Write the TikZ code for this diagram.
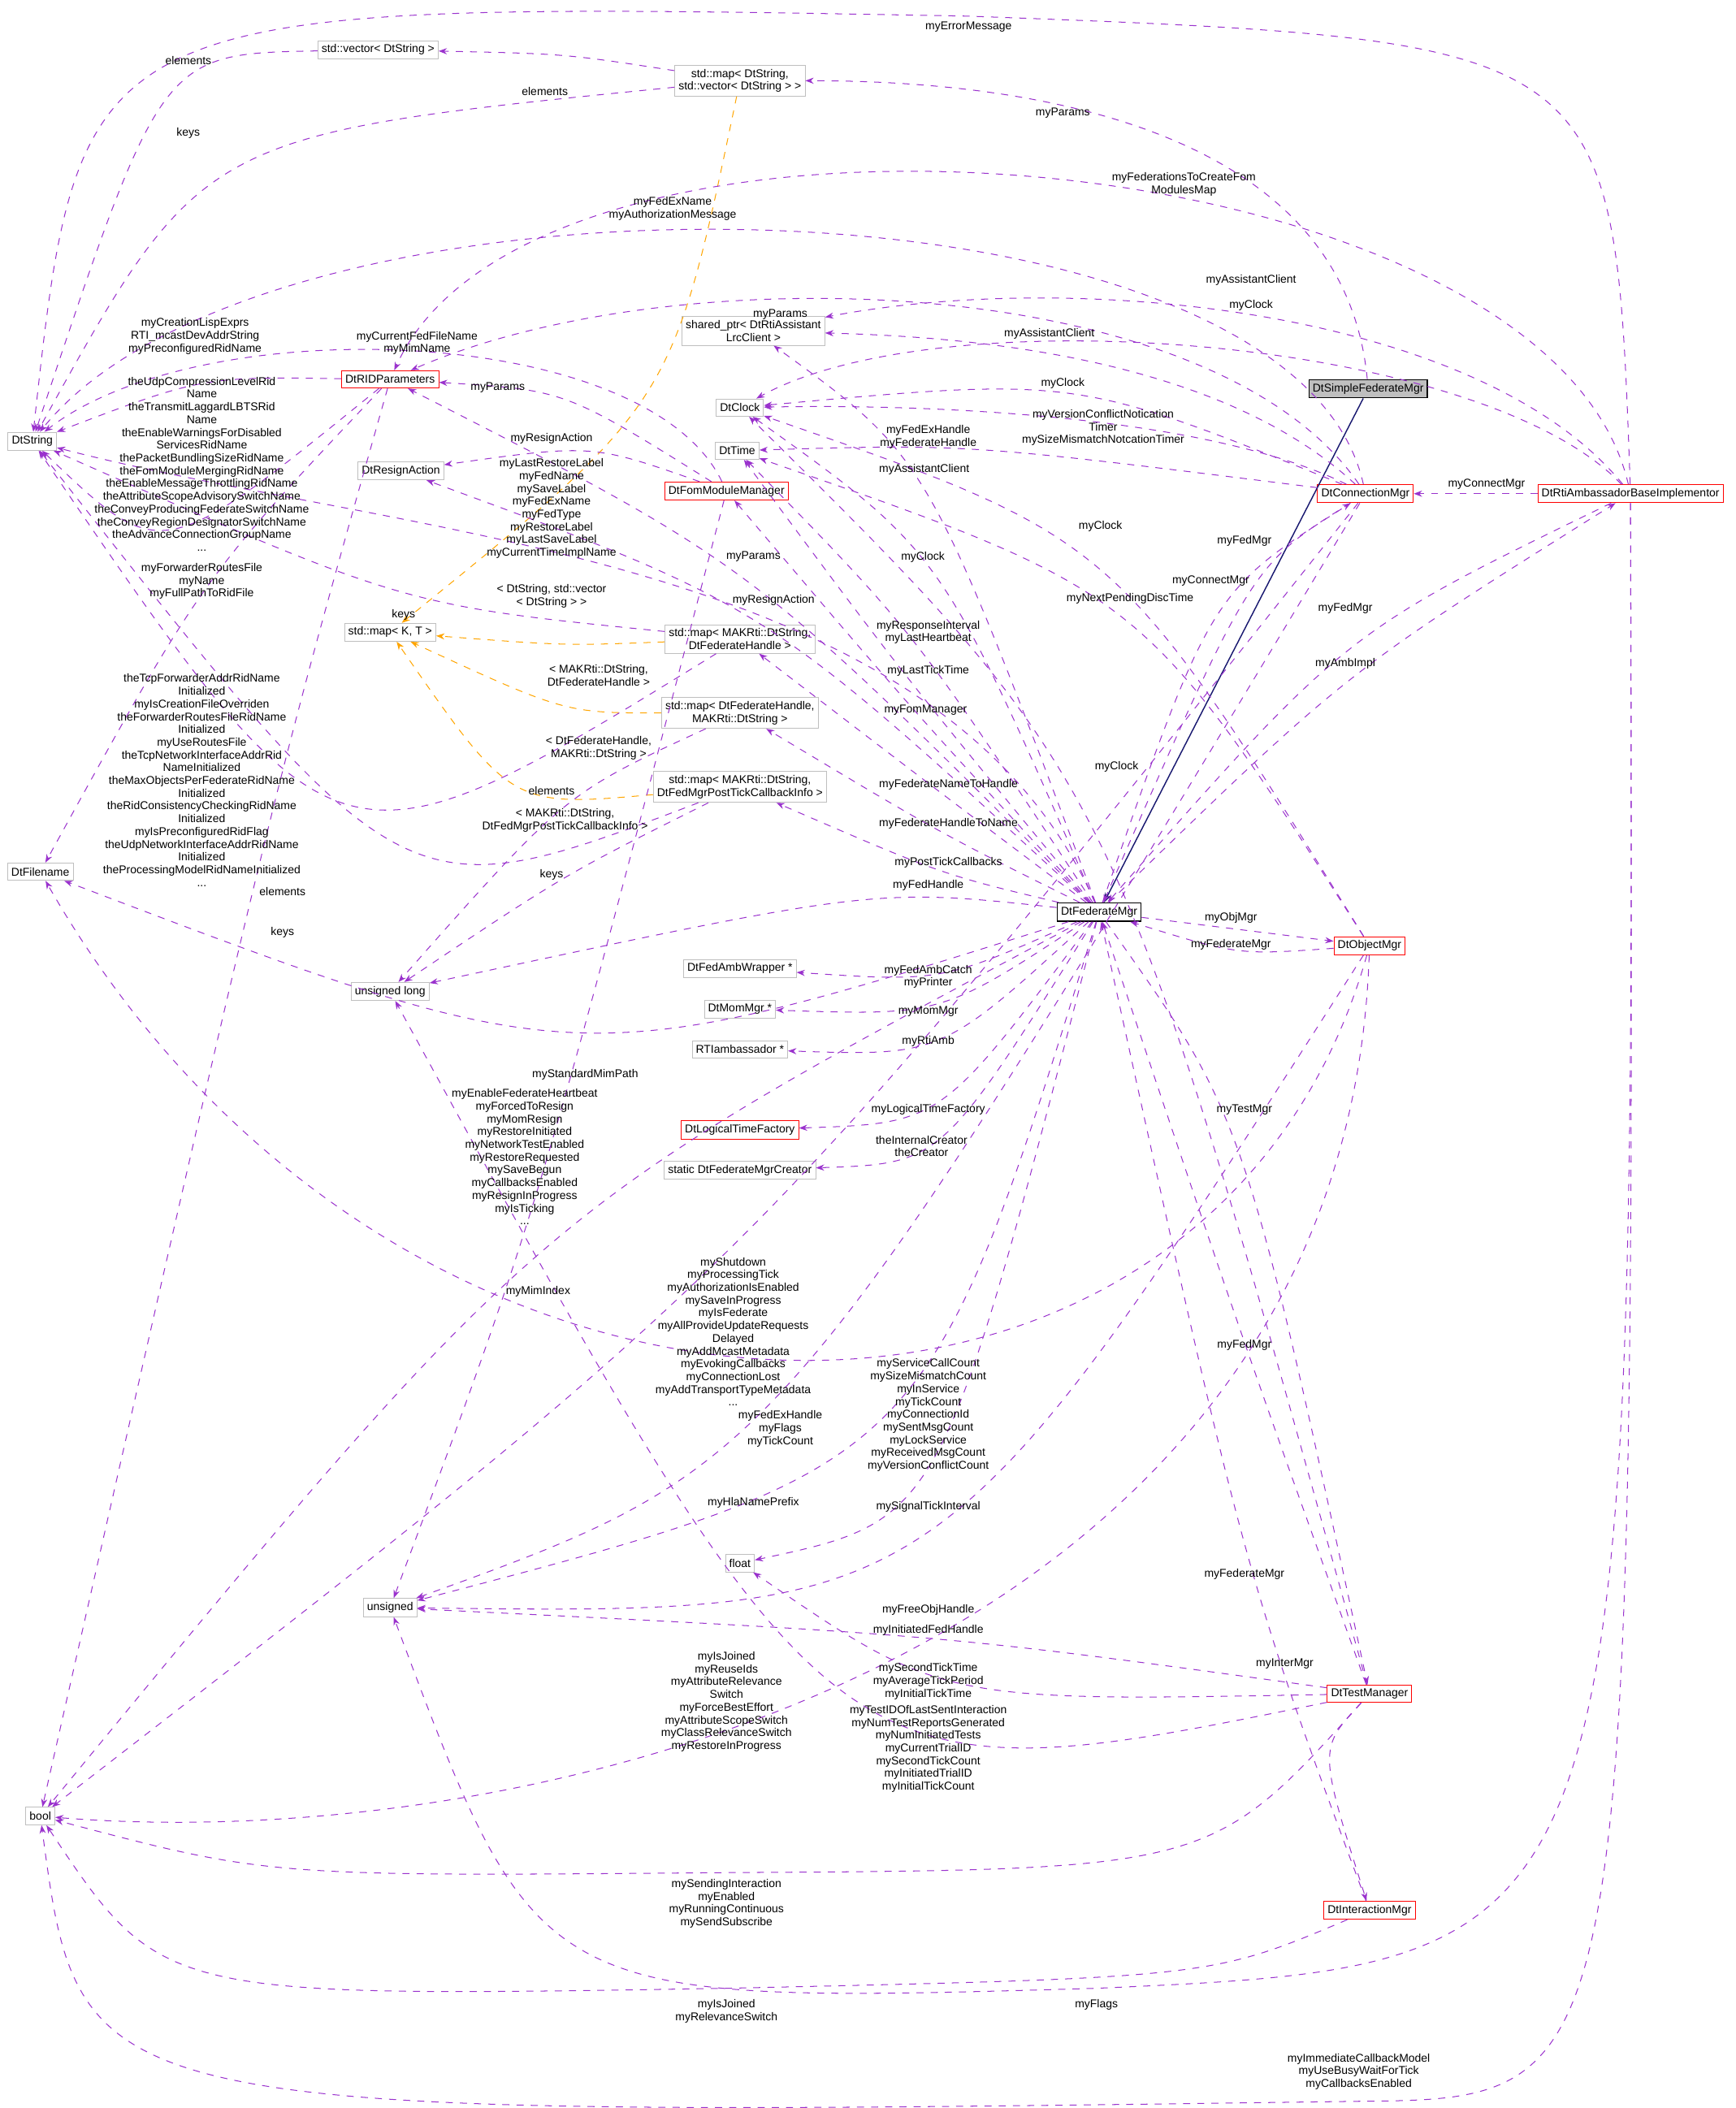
\documentclass[tikz,border=0pt]{standalone}
\usepackage{fontspec}
\setmainfont{Liberation Sans}
\usetikzlibrary{arrows.meta,positioning}
\definecolor{depc}{HTML}{9A32CD}
\definecolor{tmplc}{HTML}{FFA500}
\definecolor{inhc}{HTML}{191970}
\definecolor{boxg}{HTML}{BFBFBF}

\begin{document}
\begin{tikzpicture}[
    x=0.02cm, y=-0.02cm,
    font=\fontsize{4.8}{5.4}\selectfont,
    cls/.style={rectangle, draw=boxg, line width=0.3pt, fill=white, inner sep=1.6pt, minimum height=0.26cm, align=center},
    clsred/.style={cls, draw=red},
    clsblk/.style={cls, draw=black, line width=0.5pt},
    lbl/.style={inner sep=0pt, align=center},
    dep/.style={draw=depc, dashed, line width=0.35pt, -{Stealth[length=3.5pt,width=2.6pt,fill=depc]}},
    tmpl/.style={draw=tmplc, dashed, line width=0.35pt, -{Stealth[length=3.5pt,width=2.6pt,fill=tmplc]}},
    inh/.style={draw=inhc, line width=0.5pt, -{Stealth[length=4pt,width=3pt,open]}}
]
\useasboundingbox (0,0) rectangle (1290,1567);

% classes
\node[clsblk, fill=boxg] (simpleFed) at (1017,289) {DtSimpleFederateMgr};
\node[cls] (dtString) at (24,328) {DtString};
\node[cls] (strVec) at (281,37) {std::vector\textless{} DtString \textgreater};
\node[cls] (strMap) at (550,60) {std::map\textless{} DtString,\\std::vector\textless{} DtString \textgreater{} \textgreater};
\node[cls] (assistPtr) at (560,246) {shared\_ptr\textless{} DtRtiAssistant\\LrcClient \textgreater};
\node[cls] (dtClock) at (550,303) {DtClock};
\node[cls] (dtTime) at (548,335) {DtTime};
\node[clsred] (ridParams) at (290,282) {DtRIDParameters};
\node[cls] (resignAct) at (298,350) {DtResignAction};
\node[clsred] (fomMgr) at (540,365) {DtFomModuleManager};
\node[clsred] (connMgr) at (1015,367) {DtConnectionMgr};
\node[clsred] (rtiImpl) at (1212,367) {DtRtiAmbassadorBaseImplementor};
\node[cls] (mapKT) at (290,470) {std::map\textless{} K, T \textgreater};
\node[cls] (mapNameHandle) at (550,475) {std::map\textless{} MAKRti::DtString,\\DtFederateHandle \textgreater};
\node[cls] (mapHandleName) at (550,530) {std::map\textless{} DtFederateHandle,\\MAKRti::DtString \textgreater};
\node[cls] (mapPostTick) at (550,585) {std::map\textless{} MAKRti::DtString,\\DtFedMgrPostTickCallbackInfo \textgreater};
\node[cls] (dtFilename) at (30,648) {DtFilename};
\node[clsblk] (fedMgr) at (817,678) {DtFederateMgr};
\node[clsred] (objMgr) at (1018,703) {DtObjectMgr};
\node[cls] (ulong) at (290,737) {unsigned long};
\node[cls] (ambWrap) at (550,720) {DtFedAmbWrapper *};
\node[cls] (momMgr) at (550,750) {DtMomMgr *};
\node[cls] (rtiAmb) at (550,780) {RTIambassador *};
\node[clsred] (ltFactory) at (550,840) {DtLogicalTimeFactory};
\node[cls] (creator) at (550,870) {static DtFederateMgrCreator};
\node[cls] (floatT) at (550,1162) {float};
\node[cls] (unsignedT) at (290,1195) {unsigned};
\node[clsred] (testMgr) at (1018,1259) {DtTestManager};
\node[cls] (boolT) at (30,1350) {bool};
\node[clsred] (interMgr) at (1018,1420) {DtInteractionMgr};

% inheritance
\draw[inh] (simpleFed) -- (fedMgr);

% templates
\draw[tmpl] (strMap) .. controls (500,300) .. (mapKT);
\draw[tmpl] (mapNameHandle) .. controls (420,480) .. (mapKT);
\draw[tmpl] (mapHandleName) .. controls (420,530) .. (mapKT);
\draw[tmpl] (mapPostTick) .. controls (380,600) .. (mapKT);

% members
\draw[dep] (strVec) .. controls (120,40) .. (dtString);
\draw[dep] (strMap) .. controls (420,40) .. (strVec);
\draw[dep] (strMap) .. controls (150,100) .. (dtString);
\draw[dep] (rtiImpl) .. controls (1200,30) .. (720,12) .. controls (60,0) .. (dtString);
\draw[dep] (rtiImpl) .. controls (1150,100) and (400,40) .. (ridParams);
\draw[dep] (simpleFed) .. controls (1000,110) and (800,60) .. (strMap);
\draw[dep] (connMgr) .. controls (960,120) and (200,110) .. (dtString);
\draw[dep] (rtiImpl) .. controls (1100,230) and (800,200) .. (assistPtr);
\draw[dep] (connMgr) .. controls (900,200) and (500,190) .. (ridParams);
\draw[dep] (rtiImpl) .. controls (1100,250) and (700,220) .. (dtClock);
\draw[dep] (connMgr) .. controls (900,260) and (700,250) .. (assistPtr);
\draw[dep] (fomMgr) .. controls (480,240) and (150,230) .. (dtString);
\draw[dep] (ridParams) .. controls (150,280) .. (dtString);
\draw[dep] (ridParams) .. controls (120,420) .. (dtString);
\draw[dep] (fomMgr) .. controls (420,290) .. (ridParams);
\draw[dep] (connMgr) .. controls (800,280) .. (dtClock);
\draw[dep] (connMgr) .. controls (720,330) .. (dtTime);
\draw[dep] (connMgr) .. controls (900,310) and (700,300) .. (dtClock);
\draw[dep] (fomMgr) .. controls (440,330) .. (resignAct);
\draw[dep] (rtiImpl) -- (connMgr);
\draw[dep] (fedMgr) .. controls (700,410) and (300,400) .. (dtString);
\draw[dep] (fedMgr) .. controls (690,340) .. (assistPtr);
\draw[dep] (fedMgr) .. controls (560,420) .. (ridParams);
\draw[dep] (fedMgr) .. controls (570,450) .. (resignAct);
\draw[dep] (fedMgr) .. controls (700,410) .. (dtClock);
\draw[dep] (objMgr) .. controls (830,400) .. (dtClock);
\draw[dep] (objMgr) .. controls (850,440) .. (dtTime);
\draw[dep] (connMgr) .. controls (930,420) .. (fedMgr);
\draw[dep] (fedMgr) .. controls (900,440) .. (connMgr);
\draw[dep] (rtiImpl) .. controls (1000,470) .. (fedMgr);
\draw[dep] (fedMgr) .. controls (1000,500) .. (rtiImpl);
\draw[dep] (fedMgr) .. controls (680,470) .. (dtTime);
\draw[dep] (fedMgr) .. controls (670,500) .. (dtTime);
\draw[dep] (fedMgr) .. controls (680,530) .. (fomMgr);
\draw[dep] (testMgr) .. controls (830,580) .. (dtClock);
\draw[dep] (fedMgr) .. controls (700,590) .. (mapNameHandle);
\draw[dep] (fedMgr) .. controls (700,620) .. (mapHandleName);
\draw[dep] (fedMgr) .. controls (700,650) .. (mapPostTick);
\draw[dep] (mapNameHandle) .. controls (300,450) .. (dtString);
\draw[dep] (mapHandleName) .. controls (420,590) .. (ulong);
\draw[dep] (mapPostTick) .. controls (300,680) .. (dtString);
\draw[dep] (mapPostTick) .. controls (420,650) .. (ulong);
\draw[dep] (mapNameHandle) .. controls (250,660) .. (dtString);
\draw[dep] (fedMgr) .. controls (650,660) .. (ulong);
\draw[dep] (ridParams) .. controls (150,430) .. (dtFilename);
\draw[dep] (ridParams) .. controls (200,600) .. (boolT);
\draw[dep] (fedMgr) -- (objMgr);
\draw[dep] (objMgr) .. controls (920,710) .. (fedMgr);
\draw[dep] (fedMgr) .. controls (700,730) .. (ambWrap);
\draw[dep] (fedMgr) .. controls (700,755) .. (momMgr);
\draw[dep] (fedMgr) .. controls (700,785) .. (rtiAmb);
\draw[dep] (fedMgr) .. controls (430,800) .. (dtFilename);
\draw[dep] (fedMgr) .. controls (700,835) .. (ltFactory);
\draw[dep] (fedMgr) .. controls (700,865) .. (creator);
\draw[dep] (fedMgr) .. controls (400,900) .. (boolT);
\draw[dep] (connMgr) .. controls (560,940) .. (boolT);
\draw[dep] (connMgr) .. controls (580,1090) .. (unsignedT);
\draw[dep] (fomMgr) .. controls (400,900) .. (unsignedT);
\draw[dep] (fedMgr) .. controls (690,1090) .. (unsignedT);
\draw[dep] (objMgr) .. controls (900,1120) and (300,1120) .. (dtFilename);
\draw[dep] (fedMgr) .. controls (700,1130) .. (floatT);
\draw[dep] (objMgr) .. controls (700,1200) .. (unsignedT);
\draw[dep] (testMgr) .. controls (700,1215) .. (unsignedT);
\draw[dep] (testMgr) .. controls (925,1000) .. (fedMgr);
\draw[dep] (fedMgr) .. controls (925,830) .. (testMgr);
\draw[dep] (interMgr) .. controls (925,1170) .. (fedMgr);
\draw[dep] (testMgr) .. controls (980,1300) .. (interMgr);
\draw[dep] (testMgr) .. controls (700,1265) .. (floatT);
\draw[dep] (testMgr) .. controls (620,1340) .. (ulong);
\draw[dep] (objMgr) .. controls (1000,1230) and (400,1380) .. (boolT);
\draw[dep] (testMgr) .. controls (900,1390) .. (540,1392) .. controls (200,1395) .. (boolT);
\draw[dep] (interMgr) .. controls (900,1470) .. (540,1478) .. controls (120,1485) .. (boolT);
\draw[dep] (rtiImpl) .. controls (1215,1460) .. (815,1478) .. controls (400,1490) .. (unsignedT);
\draw[dep] (rtiImpl) .. controls (1215,1560) .. (1010,1562) .. controls (60,1575) .. (boolT);

% labels
\node[lbl] (lElemA) at (140,45) {elements};
\node[lbl] (lElemB) at (405,68) {elements};
\node[lbl] (lKeysA) at (140,99) {keys};
\node[lbl] (lTmplA) at (410,443) {\textless{} DtString, std::vector\\\textless{} DtString \textgreater{} \textgreater};
\node[lbl] (lErr) at (720,20) {myErrorMessage};
\node[lbl] (lParamsA) at (790,84) {myParams};
\node[lbl] (lFedToCreate) at (880,137) {myFederationsToCreateFom\\ModulesMap};
\node[lbl] (lFedEx) at (500,155) {myFedExName\\myAuthorizationMessage};
\node[lbl] (lAssistA) at (930,208) {myAssistantClient};
\node[lbl] (lParamsB) at (580,234) {myParams};
\node[lbl] (lClockA) at (930,227) {myClock};
\node[lbl] (lAssistB) at (780,248) {myAssistantClient};
\node[lbl] (lCurFed) at (310,255) {myCurrentFedFileName\\myMimName};
\node[lbl] (lLisp) at (145,250) {myCreationLispExprs\\RTI\_mcastDevAddrString\\myPreconfiguredRidName};
\node[lbl] (lRidNames) at (150,345) {theUdpCompressionLevelRid\\Name\\theTransmitLaggardLBTSRid\\Name\\theEnableWarningsForDisabled\\ServicesRidName\\thePacketBundlingSizeRidName\\theFomModuleMergingRidName\\theEnableMessageThrottlingRidName\\theAttributeScopeAdvisorySwitchName\\theConveyProducingFederateSwitchName\\theConveyRegionDesignatorSwitchName\\theAdvanceConnectionGroupName\\...};
\node[lbl] (lParamsC) at (370,288) {myParams};
\node[lbl] (lClockB) at (790,285) {myClock};
\node[lbl] (lFedExH) at (690,325) {myFedExHandle\\myFederateHandle};
\node[lbl] (lTimers) at (820,318) {myVersionConflictNotication\\Timer\\mySizeMismatchNotcationTimer};
\node[lbl] (lResignA) at (410,326) {myResignAction};
\node[lbl] (lConnA) at (1105,360) {myConnectMgr};
\node[lbl] (lLabels) at (410,378) {myLastRestoreLabel\\myFedName\\mySaveLabel\\myFedExName\\myFedType\\myRestoreLabel\\myLastSaveLabel\\myCurrentTimeImplName};
\node[lbl] (lAssistC) at (687,349) {myAssistantClient};
\node[lbl] (lParamsD) at (560,414) {myParams};
\node[lbl] (lResignB) at (575,446) {myResignAction};
\node[lbl] (lClockC) at (686,414) {myClock};
\node[lbl] (lClockD) at (818,391) {myClock};
\node[lbl] (lPend) at (840,445) {myNextPendingDiscTime};
\node[lbl] (lFedMgrA) at (925,402) {myFedMgr};
\node[lbl] (lConnB) at (900,432) {myConnectMgr};
\node[lbl] (lFedMgrB) at (1000,452) {myFedMgr};
\node[lbl] (lAmb) at (1000,493) {myAmbImpl};
\node[lbl] (lResp) at (690,470) {myResponseInterval\\myLastHeartbeat};
\node[lbl] (lTick) at (690,499) {myLastTickTime};
\node[lbl] (lFom) at (688,528) {myFomManager};
\node[lbl] (lClockE) at (830,570) {myClock};
\node[lbl] (lNameH) at (705,583) {myFederateNameToHandle};
\node[lbl] (lHName) at (705,612) {myFederateHandleToName};
\node[lbl] (lPost) at (705,641) {myPostTickCallbacks};
\node[lbl] (lKeysB) at (300,457) {keys};
\node[lbl] (lTmplB) at (445,502) {\textless{} MAKRti::DtString,\\DtFederateHandle \textgreater};
\node[lbl] (lTmplC) at (445,556) {\textless{} DtFederateHandle,\\MAKRti::DtString \textgreater};
\node[lbl] (lTmplD) at (420,610) {\textless{} MAKRti::DtString,\\DtFedMgrPostTickCallbackInfo \textgreater};
\node[lbl] (lElemC) at (410,588) {elements};
\node[lbl] (lElemD) at (210,663) {elements};
\node[lbl] (lKeysC) at (210,693) {keys};
\node[lbl] (lKeysD) at (410,650) {keys};
\node[lbl] (lFedH) at (690,658) {myFedHandle};
\node[lbl] (lFwd) at (150,432) {myForwarderRoutesFile\\myName\\myFullPathToRidFile};
\node[lbl] (lTcp) at (150,580) {theTcpForwarderAddrRidName\\Initialized\\myIsCreationFileOverriden\\theForwarderRoutesFileRidName\\Initialized\\myUseRoutesFile\\theTcpNetworkInterfaceAddrRid\\NameInitialized\\theMaxObjectsPerFederateRidName\\Initialized\\theRidConsistencyCheckingRidName\\Initialized\\myIsPreconfiguredRidFlag\\theUdpNetworkInterfaceAddrRidName\\Initialized\\theProcessingModelRidNameInitialized\\...};
\node[lbl] (lObj) at (915,682) {myObjMgr};
\node[lbl] (lFedMgrC) at (915,702) {myFederateMgr};
\node[lbl] (lCatch) at (690,726) {myFedAmbCatch\\myPrinter};
\node[lbl] (lMom) at (690,752) {myMomMgr};
\node[lbl] (lRti) at (690,774) {myRtiAmb};
\node[lbl] (lMim) at (435,799) {myStandardMimPath};
\node[lbl] (lLtf) at (690,825) {myLogicalTimeFactory};
\node[lbl] (lCre) at (685,852) {theInternalCreator\\theCreator};
\node[lbl] (lHeart) at (390,860) {myEnableFederateHeartbeat\\myForcedToResign\\myMomResign\\myRestoreInitiated\\myNetworkTestEnabled\\myRestoreRequested\\mySaveBegun\\myCallbacksEnabled\\myResignInProgress\\myIsTicking\\...};
\node[lbl] (lShut) at (545,990) {myShutdown\\myProcessingTick\\myAuthorizationIsEnabled\\mySaveInProgress\\myIsFederate\\myAllProvideUpdateRequests\\Delayed\\myAddMcastMetadata\\myEvokingCallbacks\\myConnectionLost\\myAddTransportTypeMetadata\\...};
\node[lbl] (lMimIdx) at (400,960) {myMimIndex};
\node[lbl] (lFlagsA) at (580,1062) {myFedExHandle\\myFlags\\myTickCount};
\node[lbl] (lCount) at (690,1052) {myServiceCallCount\\mySizeMismatchCount\\myInService\\myTickCount\\myConnectionId\\mySentMsgCount\\myLockService\\myReceivedMsgCount\\myVersionConflictCount};
\node[lbl] (lHla) at (560,1117) {myHlaNamePrefix};
\node[lbl] (lSig) at (690,1120) {mySignalTickInterval};
\node[lbl] (lFree) at (690,1197) {myFreeObjHandle};
\node[lbl] (lInit) at (690,1212) {myInitiatedFedHandle};
\node[lbl] (lFedMgrD) at (925,1000) {myFedMgr};
\node[lbl] (lTest) at (925,825) {myTestMgr};
\node[lbl] (lFedMgrE) at (925,1170) {myFederateMgr};
\node[lbl] (lInter) at (955,1237) {myInterMgr};
\node[lbl] (lTickT) at (690,1250) {mySecondTickTime\\myAverageTickPeriod\\myInitialTickTime};
\node[lbl] (lTestId) at (690,1300) {myTestIDOfLastSentInteraction\\myNumTestReportsGenerated\\myNumInitiatedTests\\myCurrentTrialID\\mySecondTickCount\\myInitiatedTrialID\\myInitialTickCount};
\node[lbl] (lJoinA) at (540,1265) {myIsJoined\\myReuseIds\\myAttributeRelevance\\Switch\\myForceBestEffort\\myAttributeScopeSwitch\\myClassRelevanceSwitch\\myRestoreInProgress};
\node[lbl] (lSend) at (540,1415) {mySendingInteraction\\myEnabled\\myRunningContinuous\\mySendSubscribe};
\node[lbl] (lJoinB) at (540,1495) {myIsJoined\\myRelevanceSwitch};
\node[lbl] (lFlagsB) at (815,1490) {myFlags};
\node[lbl] (lImm) at (1010,1540) {myImmediateCallbackModel\\myUseBusyWaitForTick\\myCallbacksEnabled};
\end{tikzpicture}
\end{document}
